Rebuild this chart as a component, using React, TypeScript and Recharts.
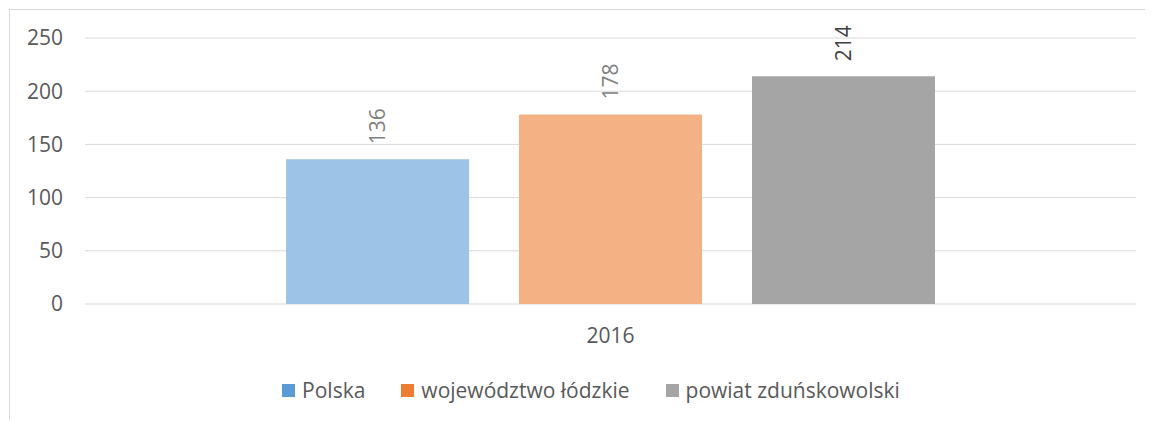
import { Bar, BarChart, CartesianGrid, LabelList, Legend, XAxis, YAxis } from 'recharts';

// Porównanie Polska / województwo / powiat dla jednego roku.
// Słupki w jaśniejszych odcieniach, legenda w pełnych kolorach serii.

const categories = ['2016'];
const seriesNames = ['Polska', 'województwo łódzkie', 'powiat zduńskowolski'];
const seriesKeys = ['polska', 'lodzkie', 'powiat'];
const polska = [136];
const lodzkie = [178];
const powiat = [214];
const yTicks = [0, 50, 100, 150, 200, 250];

const barFills = ['#9DC3E6', '#F4B183', '#A5A5A5'];
const legendFills = ['#5B9BD5', '#ED7D31', '#A5A5A5'];
const labelFills = ['#7F7F7F', '#7F7F7F', '#404040'];

const FONT = '"Open Sans", "Liberation Sans", sans-serif';
const TEXT = '#595959';

const data = categories.map((year, i) => ({
  year,
  polska: polska[i],
  lodzkie: lodzkie[i],
  powiat: powiat[i],
}));

const rotatedLabel = (color: string) => (props: any) => {
  const { x, y, width, value } = props;
  const cx = Number(x) + Number(width) / 2;
  const cy = Number(y) - 15;
  return (
    <text
      x={cx}
      y={cy}
      transform={`rotate(-90 ${cx} ${cy})`}
      textAnchor='start'
      dominantBaseline='central'
      fill={color}
      fontSize={21}
      fontFamily={FONT}
    >
      {value}
    </text>
  );
};

function ChartLegend() {
  return (
    <div
      style={{
        display: 'flex',
        justifyContent: 'center',
        alignItems: 'center',
        height: 26,
        paddingLeft: 19,
        fontFamily: FONT,
        fontSize: 21,
        color: TEXT,
      }}
    >
      {seriesNames.map((name, i) => (
        <div
          key={name}
          style={{ display: 'flex', alignItems: 'center', marginLeft: i ? 36 : 0 }}
        >
          <span
            style={{
              display: 'inline-block',
              width: 13,
              height: 13,
              background: legendFills[i],
              marginRight: 7,
            }}
          />
          <span>{name}</span>
        </div>
      ))}
    </div>
  );
}

export default function App() {
  return (
    <div style={{ paddingLeft: 1, paddingTop: 1 }}>
      <div
        style={{
          width: 1143,
          height: 410,
          borderLeft: '1px solid #d9d9d9',
          borderTop: '1px solid #d9d9d9',
          background: '#fff',
        }}
      >
        <BarChart
          width={1143}
          height={410}
          data={data}
          margin={{ top: 28, right: 17, left: 15, bottom: 86 }}
          barCategoryGap={201}
          barGap={50}
        >
          <CartesianGrid vertical={false} stroke='#d9d9d9' />
          <XAxis
            dataKey='year'
            axisLine={false}
            tickLine={false}
            tickMargin={18}
            tick={{ fill: TEXT, fontSize: 21, fontFamily: FONT }}
          />
          <YAxis
            width={60}
            domain={[0, 250]}
            ticks={yTicks}
            axisLine={false}
            tickLine={false}
            tickMargin={16}
            tick={{ fill: TEXT, fontSize: 21, fontFamily: FONT }}
          />
          <Legend
            verticalAlign='middle'
            align='center'
            wrapperStyle={{ top: 367, left: 0, width: 1143 }}
            content={() => <ChartLegend />}
          />
          {seriesKeys.map((key, i) => (
            <Bar
              key={key}
              dataKey={key}
              name={seriesNames[i]}
              fill={barFills[i]}
              isAnimationActive={false}
            >
              <LabelList dataKey={key} content={rotatedLabel(labelFills[i])} />
            </Bar>
          ))}
        </BarChart>
      </div>
    </div>
  );
}
